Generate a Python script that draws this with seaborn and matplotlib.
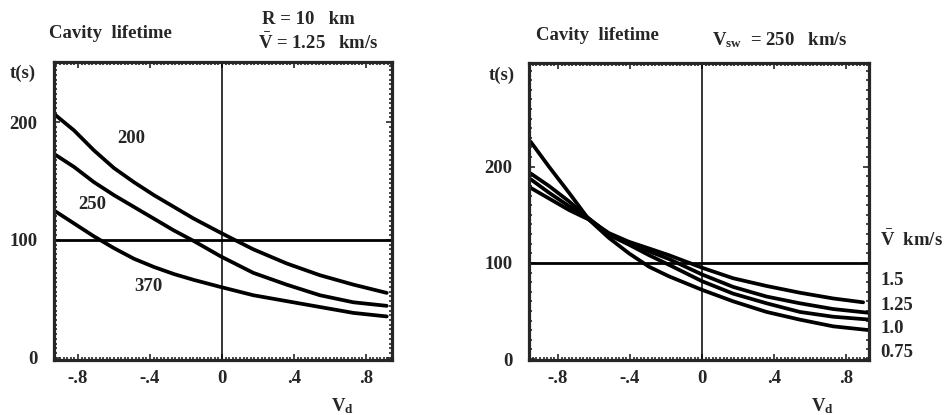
import numpy as np
import pandas as pd
import seaborn as sns
import matplotlib.pyplot as plt
from matplotlib.ticker import MultipleLocator, FixedLocator

# Left panel: R = 10 km, mean V = 1.25 km/s, one curve per V_sw
L_X = [-0.933, -0.822, -0.711, -0.6, -0.489, -0.378, -0.267, -0.156, -0.007,
       0.174, 0.359, 0.544, 0.73, 0.915]
L_T200 = [207, 193, 176, 161, 149, 138, 128, 118, 106, 92, 80, 70, 62, 55]
L_T250 = [173, 162, 149, 138, 128, 118, 108, 99, 86, 72, 62, 53, 47, 44]
L_T370 = [125, 114, 103, 93, 84, 77, 71, 66, 60, 53, 48, 43, 38, 35]

# Right panel: V_sw = 250 km/s, one curve per mean V
R_X = [-0.952, -0.85, -0.739, -0.628, -0.517, -0.406, -0.294, -0.183, 0.0,
       0.174, 0.359, 0.544, 0.73, 0.933]
R_X150 = R_X[:-1] + [0.896]
R_T075 = [226, 200, 173, 145, 126, 110, 96, 86, 72, 60, 49, 41, 34, 30]
R_T100 = [193, 180, 164, 146, 129, 119, 108, 98, 81, 68, 58, 49, 44, 41]
R_T125 = [187, 173, 159, 146, 130, 121, 112, 104, 88, 75, 65, 58, 52, 48]
R_T150 = [178, 167, 155, 145, 131, 122, 115, 108, 95, 84, 76, 69, 63, 59]

R_LABELS = ['1.5', '1.25', '1.0', '0.75']
R_LABEL_T = [82, 56, 32, 7]

X_TICKS = [-0.8, -0.4, 0, 0.4, 0.8]
X_TICKLABELS = ['-.8', '-.4', '0', '.4', '.8']
Y_TICKS = [0, 100, 200]

FS = 13.5

sns.set_style('ticks')
plt.rcParams['font.family'] = ['Liberation Serif', 'DejaVu Serif']
plt.rcParams['font.weight'] = 'bold'
plt.rcParams['mathtext.fontset'] = 'custom'
plt.rcParams['mathtext.rm'] = 'Liberation Serif:bold'
plt.rcParams['mathtext.it'] = 'Liberation Serif:bold'
plt.rcParams['mathtext.bf'] = 'Liberation Serif:bold'
plt.rcParams['lines.solid_joinstyle'] = 'round'
plt.rcParams['lines.solid_capstyle'] = 'round'

left = pd.concat([
    pd.DataFrame({'x': L_X, 't': L_T200, 'vsw': '200'}),
    pd.DataFrame({'x': L_X, 't': L_T250, 'vsw': '250'}),
    pd.DataFrame({'x': L_X, 't': L_T370, 'vsw': '370'}),
])
right = pd.concat([
    pd.DataFrame({'x': R_X, 't': R_T075, 'vbar': '0.75'}),
    pd.DataFrame({'x': R_X, 't': R_T100, 'vbar': '1.0'}),
    pd.DataFrame({'x': R_X, 't': R_T125, 'vbar': '1.25'}),
    pd.DataFrame({'x': R_X150, 't': R_T150, 'vbar': '1.5'}),
])

fig = plt.figure(figsize=(9.52, 4.15), dpi=100)
ax1 = fig.add_axes([0.0567, 0.1325, 0.355, 0.718])
ax2 = fig.add_axes([0.5557, 0.1325, 0.357, 0.716])

sns.lineplot(data=left, x='x', y='t', units='vsw', estimator=None, sort=False,
             color='black', lw=2.7, ax=ax1)
sns.lineplot(data=right, x='x', y='t', units='vbar', estimator=None, sort=False,
             color='black', lw=2.7, ax=ax2)

ax1.set_xlim(-0.933, 0.944)
ax1.set_ylim(-2, 251)
ax2.set_xlim(-0.961, 0.928)
ax2.set_ylim(-1, 308)

for ax, yminor in ((ax1, 4), (ax2, 10)):
    ax.axhline(100, color='black', lw=2.0)
    ax.axvline(0, color='black', lw=1.1)
    ax.set_xticks(X_TICKS)
    ax.set_xticklabels(X_TICKLABELS)
    ax.yaxis.set_major_locator(FixedLocator(Y_TICKS))
    ax.xaxis.set_minor_locator(MultipleLocator(0.02))
    ax.yaxis.set_minor_locator(MultipleLocator(yminor))
    ax.tick_params(which='both', direction='in', top=True, right=True,
                   labelsize=FS, width=1.2, pad=7)
    ax.tick_params(which='major', length=4)
    ax.tick_params(which='minor', length=2.5)
    ax.tick_params(axis='y', pad=12)
    for lab in ax.get_xticklabels() + ax.get_yticklabels():
        lab.set_fontweight('bold')
    for sp in ax.spines.values():
        sp.set_linewidth(2.3)
        sp.set_visible(True)
    ax.set_xlabel('')
    ax.set_ylabel('')

# curve labels, left panel
ax1.text(-0.506, 186, '200', fontsize=FS, ha='center', va='center')
ax1.text(-0.72, 130, '250', fontsize=FS, ha='center', va='center')
ax1.text(-0.41, 60, '370', fontsize=FS, ha='center', va='center')

# curve labels, right panel
ax2.text(0.99, 124, r'$\bar{\mathrm{V}}$  km/s', fontsize=FS, ha='left', va='center',
         clip_on=False)
for lab, t in zip(R_LABELS, R_LABEL_T):
    ax2.text(0.99, t, lab, fontsize=FS, ha='left', va='center', clip_on=False)

# headings
W, H = 952, 415
def ftext(px, py, s, **kw):
    fig.text(px / W, 1 - py / H, s, ha='center', va='center', fontsize=FS, **kw)

ftext(110, 33, 'Cavity  lifetime')
ftext(308, 19, 'R = 10   km')
ftext(318, 43, r'$\bar{\mathrm{V}}$ = 1.25   km/s')
ftext(23, 73, 't(s)')
ftext(342, 406, r'V$_\mathrm{d}$')

ftext(597, 36, 'Cavity  lifetime')
ftext(780, 40, r'V$_\mathrm{sw}$  = 250   km/s')
ftext(502, 75, 't(s)')
ftext(822, 406, r'V$_\mathrm{d}$')

fig.savefig('out.png', dpi=100)
